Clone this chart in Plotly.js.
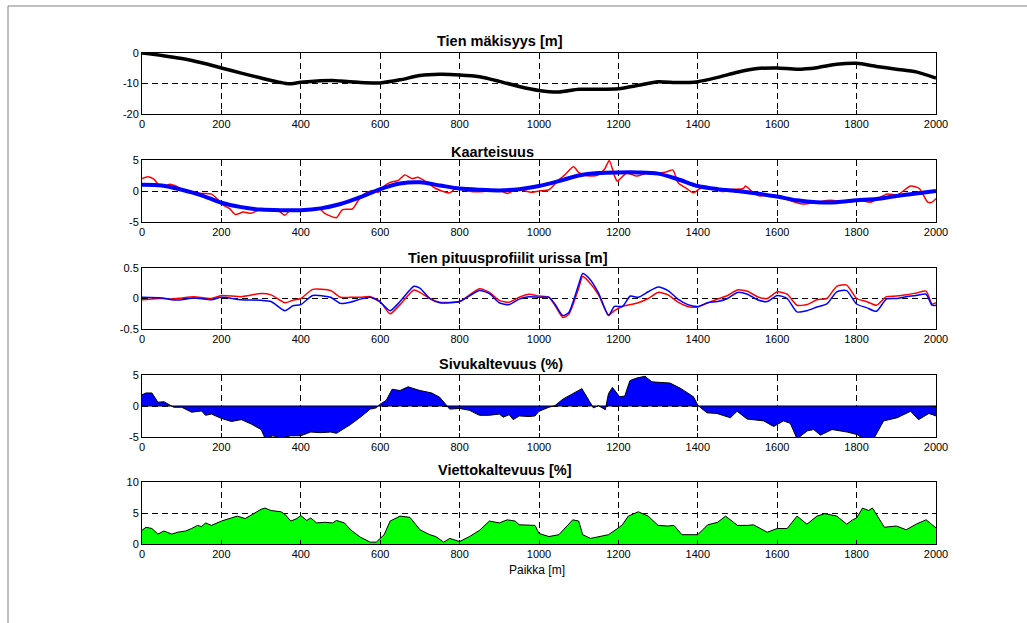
<!DOCTYPE html>
<html><head><meta charset="utf-8">
<script src="https://cdn.plot.ly/plotly-3.0.1.min.js"></script>
<style>html,body{margin:0;padding:0;background:#fff}#chart{width:1027px;height:623px}</style>
</head><body><div id="chart"></div>
<script>
// ---- Data ----
const titles = ["Tien mäkisyys [m]", "Kaarteisuus", "Tien pituusprofiilit urissa [m]", "Sivukaltevuus (%)", "Viettokaltevuus [%]"];
const xAxisTitle = "Paikka [m]";
const xTickVals = [0,200,400,600,800,1000,1200,1400,1600,1800,2000];
const xTickText = ["0","200","400","600","800","1000","1200","1400","1600","1800","2000"];
const yRanges = [[-20,0],[-5,5],[-0.5,0.5],[-5,5],[0,10]];
const yTickVals = [[-20,-10,0],[-5,0,5],[-0.5,0,0.5],[-5,0,5],[0,5,10]];
const yTickText = [["-20","-10","0"],["-5","0","5"],["-0.5","0","0.5"],["-5","0","5"],["0","5","10"]];

// 1: elevation
const elevX = [0,50,100,150,200,250,300,350,370,400,450,480,500,550,600,650,700,750,800,850,900,950,1000,1050,1100,1150,1200,1250,1300,1350,1400,1450,1500,1550,1600,1650,1700,1750,1800,1850,1900,1950,2000];
const elevY = [0,-0.8,-1.8,-3.2,-4.9,-6.6,-8.2,-9.7,-10.1,-9.6,-9.1,-9.0,-9.2,-9.7,-9.8,-8.8,-7.4,-7.0,-7.2,-7.8,-9.3,-11.0,-12.3,-12.8,-11.9,-11.9,-11.7,-10.6,-9.4,-9.7,-9.4,-8.0,-6.3,-5.1,-4.9,-5.3,-4.8,-3.7,-3.4,-4.4,-5.3,-6.2,-8.2];

// 2: curvature
const curvRedX = [0,15,30,42,60,70,85,100,125,150,175,190,205,220,235,255,275,290,310,340,360,375,400,425,445,460,490,505,530,545,560,580,595,610,625,645,662,680,695,720,740,760,775,790,810,830,860,900,920,940,960,980,1000,1025,1050,1065,1087,1100,1112,1130,1150,1165,1177,1190,1197,1221,1246,1271,1297,1322,1337,1351,1372,1389,1406,1431,1465,1481,1515,1520,1540,1557,1582,1616,1664,1700,1734,1776,1810,1835,1877,1903,1936,1958,1979,1990,2000];
const curvRed = [2.0,2.3,1.9,1.0,0.8,1.1,0.8,0.3,-0.1,-0.4,-0.5,-1.3,-2.3,-2.8,-3.8,-3.4,-3.6,-3.2,-3.0,-3.0,-3.9,-3.0,-3.2,-3.0,-2.7,-3.6,-4.3,-3.0,-2.9,-1.5,-0.5,0.1,-0.2,0.8,1.4,1.7,2.6,2.0,2.2,1.3,0.4,-0.1,-0.3,0.4,0.2,-0.1,-0.1,0.1,-0.4,0.2,0.1,-0.2,0.0,0.2,1.8,2.6,3.9,3.0,2.6,2.4,2.6,3.5,4.9,2.5,1.6,2.9,2.4,2.9,2.8,3.1,3.4,1.3,0.4,-0.3,0.4,0.4,-0.1,0.2,0.4,0.8,-0.3,-0.8,-0.6,-1.2,-2.1,-1.8,-1.5,-1.8,-1.5,-1.8,-0.5,-0.6,0.8,0.4,-1.8,-1.8,-1.2];
const curvBlueX = [0,50,100,150,200,250,300,350,400,450,500,550,600,650,700,750,800,850,900,950,1000,1050,1100,1150,1200,1250,1300,1350,1400,1450,1500,1550,1600,1650,1700,1750,1800,1850,1900,1950,2000];
const curvBlue = [1.0,0.9,0.2,-0.7,-1.9,-2.6,-3.0,-3.1,-3.1,-2.8,-2.1,-1.0,0.3,1.2,1.4,0.9,0.4,0.2,0.1,0.3,0.8,1.6,2.5,2.9,3.0,3.0,2.8,1.9,0.8,0.3,0.0,-0.4,-0.9,-1.5,-1.8,-1.8,-1.5,-1.3,-0.8,-0.4,0.0];

// 3: longitudinal profiles in the ruts
const profX = [0,50,75,100,130,175,200,250,300,325,360,380,400,430,475,500,525,550,575,600,625,650,685,700,725,750,800,850,875,900,925,950,975,1000,1025,1040,1060,1075,1100,1110,1125,1150,1175,1190,1210,1230,1250,1275,1300,1325,1350,1375,1400,1425,1450,1475,1500,1525,1550,1575,1600,1625,1650,1675,1700,1725,1750,1775,1800,1825,1850,1875,1900,1925,1950,1975,1990,2000];
const profRed = [-0.02,0.0,-0.01,0.01,0.03,0.0,0.05,0.03,0.08,0.06,-0.07,-0.03,0.0,0.15,0.13,0.02,0.02,0.02,0.03,-0.05,-0.25,-0.1,0.14,0.1,0.0,-0.06,-0.05,0.16,0.1,-0.03,-0.06,0.02,0.07,0.04,0.02,-0.11,-0.31,-0.26,0.17,0.36,0.28,0.06,-0.27,-0.2,-0.13,-0.1,-0.07,0.0,0.1,0.06,-0.06,-0.13,-0.14,-0.07,-0.01,0.05,0.14,0.12,0.03,0.0,0.11,0.07,-0.11,-0.1,-0.02,0.0,0.2,0.22,0.0,-0.05,-0.11,0.03,0.04,0.06,0.09,0.12,-0.09,-0.07];
const profBlue = [0.02,0.01,-0.02,-0.02,0.01,-0.02,0.02,-0.02,-0.03,-0.05,-0.2,-0.12,-0.1,0.05,0.02,-0.08,-0.06,-0.01,0.02,-0.06,-0.2,-0.05,0.2,0.17,0.0,-0.07,-0.05,0.13,0.08,-0.07,-0.1,-0.01,0.03,0.02,0.02,-0.09,-0.28,-0.23,0.23,0.41,0.34,0.09,-0.28,-0.13,-0.13,0.04,0.02,0.11,0.19,0.13,-0.01,-0.1,-0.13,-0.07,-0.05,0.0,0.1,0.07,-0.02,-0.05,0.05,0.0,-0.22,-0.2,-0.14,-0.09,0.11,0.13,-0.09,-0.15,-0.21,-0.01,0.0,0.03,0.05,0.07,-0.11,-0.11];

// 4: cross slope
const crossX = [0,10,25,40,55,70,80,100,125,150,160,175,200,225,250,275,300,310,330,350,375,400,425,450,475,490,500,525,550,575,590,600,615,630,650,670,700,730,750,775,800,825,850,875,900,910,925,935,950,975,990,1000,1025,1040,1060,1075,1090,1108,1137,1150,1167,1175,1185,1203,1216,1229,1246,1267,1284,1313,1330,1355,1376,1389,1401,1423,1448,1482,1499,1524,1566,1591,1616,1633,1650,1676,1692,1709,1738,1776,1801,1818,1843,1868,1902,1936,1956,1982,2000];
const crossY = [1.8,2.1,2.1,0.6,0.7,0.2,-0.2,-0.2,-1.0,-0.8,-1.5,-1.3,-2.0,-2.5,-2.2,-2.9,-3.8,-5.2,-4.8,-5.2,-4.8,-4.8,-4.2,-4.3,-4.2,-4.4,-4.0,-3.0,-1.8,-0.5,-0.3,0.3,0.9,2.7,2.5,3.1,2.5,2.1,1.4,-0.5,-0.4,-0.7,-1.5,-1.5,-1.3,-1.8,-1.4,-2.2,-1.6,-1.7,-1.6,-0.85,-0.2,0.05,1.1,1.6,2.2,2.8,-0.3,0.05,-0.6,2.0,3.0,1.5,1.6,4.1,4.5,4.8,3.9,3.8,3.7,2.9,2.1,1.5,0.05,-1.1,-1.2,-1.9,-0.85,-2.1,-2.4,-3.3,-2.4,-2.8,-5.3,-4.0,-3.8,-4.7,-3.8,-4.2,-4.6,-5.3,-5.3,-2.4,-1.9,-0.85,-2.2,-1.2,-1.6];

// 5: superelevation / downhill slope
const slopeX = [0,10,25,40,55,75,90,110,125,140,150,160,175,200,225,240,260,280,300,310,325,350,360,375,390,400,415,425,440,460,480,490,510,525,550,575,590,610,625,650,675,700,725,740,760,775,800,825,850,875,900,920,940,950,975,990,1000,1025,1050,1085,1100,1110,1130,1175,1200,1210,1225,1250,1275,1300,1325,1340,1360,1400,1425,1450,1470,1500,1525,1540,1575,1600,1625,1650,1675,1700,1720,1750,1775,1790,1800,1815,1830,1840,1870,1900,1925,1950,1975,2000];
const slopeY = [2.2,2.7,2.5,1.6,2.1,1.6,1.9,2.1,2.5,3.0,2.8,3.4,3.0,3.7,4.2,4.5,4.1,4.9,5.6,5.8,5.4,5.2,4.8,3.7,4.1,4.6,3.8,4.2,3.4,3.5,3.4,3.8,3.4,2.3,1.1,0.3,0.3,1.5,3.7,4.5,4.3,2.3,1.5,1.2,0.3,0.9,0.4,1.2,2.2,3.7,3.4,3.9,3.7,3.1,3.1,3.0,1.7,1.2,1.5,3.9,3.7,1.5,0.9,1.5,2.6,3.1,4.5,5.2,4.5,3.0,2.9,3.0,1.5,1.5,3.1,3.5,4.5,3.0,3.0,3.1,1.9,2.5,2.5,4.5,3.2,4.5,4.9,4.5,3.2,3.9,4.2,5.8,5.4,5.8,2.7,2.9,2.3,3.2,3.9,2.6];

// ---- Layout geometry (pixels) ----
const W = 1027, H = 623;
const plotLeft = 142, plotRight = 936;
const plotTops = [53, 160, 268, 375, 482];
const plotBottoms = [114, 222, 329, 437, 544];
const titleCx = [500, 492, 508, 501, 505];
const titleCy = [41, 152, 258, 364, 470];

const FONT = "Liberation Sans, Arial, Helvetica, sans-serif";

const traces = [
  {x: elevX, y: elevY, xaxis: 'x', yaxis: 'y', mode: 'lines', line: {color: '#000', width: 3.5, shape: 'spline', smoothing: 0.6}},
  {x: curvRedX, y: curvRed, xaxis: 'x2', yaxis: 'y2', mode: 'lines', line: {color: '#ff0000', width: 1.5, shape: 'spline', smoothing: 0.6}},
  {x: curvBlueX, y: curvBlue, xaxis: 'x2', yaxis: 'y2', mode: 'lines', line: {color: '#0000ff', width: 4, shape: 'spline', smoothing: 0.8}},
  {x: profX, y: profRed, xaxis: 'x3', yaxis: 'y3', mode: 'lines', line: {color: '#ff0000', width: 1.5, shape: 'spline', smoothing: 0.6}},
  {x: profX, y: profBlue, xaxis: 'x3', yaxis: 'y3', mode: 'lines', line: {color: '#0000ff', width: 1.5, shape: 'spline', smoothing: 0.6}},
  {x: crossX, y: crossY, xaxis: 'x4', yaxis: 'y4', mode: 'lines', fill: 'tozeroy', fillcolor: '#0000ff', line: {color: '#000', width: 1}},
  {x: slopeX, y: slopeY, xaxis: 'x5', yaxis: 'y5', mode: 'lines', fill: 'tozeroy', fillcolor: '#00ff00', line: {color: '#000', width: 1}}
];

const layout = {
  width: W, height: H,
  margin: {l: 0, r: 0, t: 0, b: 0},
  paper_bgcolor: '#fff', plot_bgcolor: '#fff',
  showlegend: false,
  font: {family: FONT, size: 11, color: '#000'},
  annotations: [],
  shapes: [
    {type: 'rect', xref: 'paper', yref: 'paper', x0: 8 / W, x1: 1.2, y0: -0.2, y1: 1 - 6 / H,
     line: {color: '#808080', width: 1}, fillcolor: 'rgba(0,0,0,0)', layer: 'below'},
    {type: 'line', xref: 'x4 domain', yref: 'y4', x0: 0, x1: 1, y0: 0, y1: 0, line: {color: '#000', width: 1}}
  ]
};

for (let i = 0; i < 5; i++) {
  const s = i === 0 ? '' : String(i + 1);
  const common = {
    showline: true, mirror: 'ticks', linecolor: '#000', linewidth: 1,
    ticks: 'inside', ticklen: 4, tickcolor: '#000', tickwidth: 1,
    showgrid: true, gridcolor: '#000', gridwidth: 1, griddash: '6px,4px',
    zeroline: false, tickfont: {family: FONT, size: 11, color: '#000'},
    fixedrange: true
  };
  layout['xaxis' + s] = Object.assign({}, common, {
    domain: [plotLeft / W, plotRight / W], range: [0, 2000],
    anchor: 'y' + s, tickmode: 'array', tickvals: xTickVals, ticktext: xTickText
  });
  layout['yaxis' + s] = Object.assign({}, common, {
    domain: [1 - plotBottoms[i] / H, 1 - plotTops[i] / H], range: yRanges[i],
    anchor: 'x' + s, tickmode: 'array', tickvals: yTickVals[i], ticktext: yTickText[i]
  });
  layout.annotations.push({
    text: '<b>' + titles[i] + '</b>', xref: 'paper', yref: 'paper',
    x: titleCx[i] / W, y: 1 - titleCy[i] / H, xanchor: 'center', yanchor: 'middle',
    showarrow: false, font: {family: FONT, size: 14.5, color: '#000'}
  });
}
layout.annotations.push({
  text: xAxisTitle, xref: 'paper', yref: 'paper', x: 537 / W, y: 1 - 570 / H,
  xanchor: 'center', yanchor: 'middle', showarrow: false,
  font: {family: FONT, size: 12, color: '#000'}
});

Plotly.newPlot('chart', traces, layout, {displayModeBar: false, staticPlot: true});
</script></body></html>
